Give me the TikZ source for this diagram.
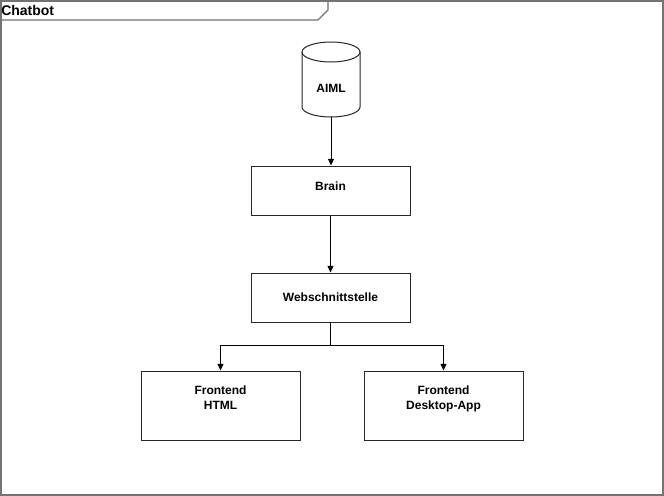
\documentclass[tikz,border=0pt]{standalone}
\usepackage{fontspec}
\setmainfont{Liberation Sans}
\usetikzlibrary{arrows.meta,shapes.geometric}
\begin{document}
\begin{tikzpicture}[x=0.75pt,y=-0.75pt,
  box/.style={draw=black!85,line width=0.75pt,minimum width=119.25pt,minimum height=36.75pt,inner sep=0pt,align=center,font=\fontsize{9}{11}\selectfont\bfseries},
  bigbox/.style={box,minimum height=51.75pt},
  conn/.style={draw=black,line width=0.75pt,-{Triangle[length=5pt,width=4.5pt]}},
  frame/.style={draw=black!55,line width=1pt}]
\useasboundingbox (0,0) rectangle (664,496);
\fill[white] (0,0) rectangle (664,496);
\draw[frame] (1,1) rectangle (663,495);
\draw[frame] (1,20) -- (318,20) -- (328,10) -- (328,1);
\node[anchor=west,inner sep=0pt,font=\fontsize{10.5}{12}\selectfont\bfseries] (title) at (1,10) {Chatbot};
% cylinder
\draw[draw=black!85,line width=0.75pt,fill=white] (302,52) arc[start angle=180,end angle=360,x radius=29,y radius=10] -- (360,107) arc[start angle=0,end angle=180,x radius=29,y radius=10] -- cycle;
\draw[draw=black!85,line width=0.75pt] (302,52) arc[start angle=180,end angle=0,x radius=29,y radius=10];
\node[font=\fontsize{9}{11}\selectfont\bfseries,inner sep=0pt] (aiml) at (331,88) {AIML};
\coordinate (cylbot) at (331,117);
\node[box] (brain) at (330.5,190.5) {\raisebox{0pt}[0pt][0pt]{Brain}};
\node[box] (web) at (330.5,297.5) {Webschnittstelle};
\node[bigbox] (html) at (220.5,405.5) {\raisebox{2.6pt}[0pt][0pt]{\begin{tabular}{@{}c@{}}Frontend\\HTML\end{tabular}}};
\node[bigbox] (desk) at (443.5,405.5) {\raisebox{2.6pt}[0pt][0pt]{\begin{tabular}{@{}c@{}}Frontend\\Desktop-App\end{tabular}}};
\coordinate (split) at (330.5,345);
\draw[conn] (cylbot) -- (brain.north -| cylbot);
\draw[conn] (brain) -- (web);
\draw[conn] (web.south) -- (split) -| (html.north);
\draw[conn] (split) -| (desk.north);
\end{tikzpicture}
\end{document}
